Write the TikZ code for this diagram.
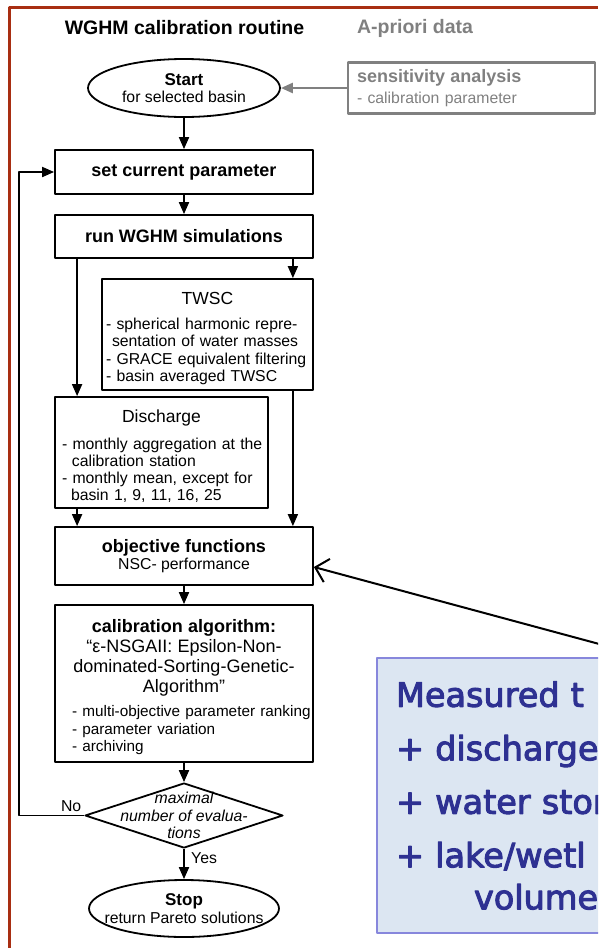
\documentclass[tikz,border=0pt]{standalone}
\usepackage{fontspec}
\setmainfont{Liberation Sans}
\newfontfamily\targetfont[FakeBold=3]{DejaVu Sans}
\usetikzlibrary{shapes.geometric,arrows.meta}
\definecolor{framered}{RGB}{168,46,18}
\definecolor{aprigray}{RGB}{128,128,128}
\definecolor{tgtfill}{RGB}{220,230,242}
\definecolor{tgtline}{RGB}{135,135,220}
\definecolor{tgttext}{RGB}{46,49,146}
\newcommand{\fsz}[2]{\fontsize{#1}{#2}\selectfont}
\begin{document}
\begin{tikzpicture}[x=1pt, y=-1pt, line join=round, font=\fsz{15.8}{17.6},
	arr/.style={-{Triangle[length=12pt,width=10pt]}, line width=1.8pt},
	stepbox/.style={draw, line width=1.8pt, minimum width=258pt, inner sep=0pt, align=center},
	listbox/.style={draw, line width=1.8pt, align=left, inner ysep=0pt},
	term/.style={draw, ellipse, line width=1.8pt, inner sep=0pt, align=center}]
	\def\W{598} \def\H{948}
	\useasboundingbox (0,0) rectangle (\W,\H);
	\clip (0,0) rectangle (\W,\H);
	\draw[framered, line width=2.8pt] (9.5,\H) -- (9.5,7.5) -- (\W,7.5);
	% headings
	\node[font=\bfseries\fsz{19.5}{22}] (routine) at (184.5,28) {WGHM calibration routine};
	\node[font=\bfseries\fsz{19.5}{22}, text=aprigray] (apriori) at (415,28) {A-priori data};
	% flow chart
	\node[term, minimum width=192pt, minimum height=58pt] (start) at (184,88) {{\bfseries\fsz{17}{18}Start}\\for selected basin};
	\node[draw=aprigray, text=aprigray, line width=2.5pt, minimum width=247pt, minimum height=51pt, text width=229pt, inner xsep=9pt, align=left] (sens) at (471.5,88) {{\bfseries\fsz{18}{20}sensitivity analysis}\\[3.4pt]- calibration parameter};
	\node[stepbox, minimum height=44pt, font=\bfseries\fsz{18}{20}] (set) at (184,172) {set current parameter};
	\node[stepbox, minimum height=43pt, font=\bfseries\fsz{18}{20}] (run) at (184,236.5) {run WGHM simulations};
	\node[listbox, text width=203pt, inner xsep=4pt, minimum height=111pt] (twsc) at (207.5,334.5) {{\centering\fsz{17.5}{20}\rule{0pt}{20.5pt}TWSC\par}\vspace{7pt}- spherical harmonic repre-\\\hspace*{6pt}sentation of water masses\\- GRACE equivalent filtering\\- basin averaged TWSC};
	\node[listbox, text width=213pt, inner xsep=0pt, minimum height=111pt] (dis) at (161.5,452.5) {{\centering\fsz{17.5}{20}\rule{0pt}{20pt}Discharge\par}\vspace{10pt}{\leftskip=7pt\fsz{15.8}{17} - monthly aggregation at the\\\hspace*{10pt}calibration station\\- monthly mean, except for\\\hspace*{9pt}basin 1, 9, 11, 16, 25\par}};
	\node[stepbox, minimum height=58pt] (obj) at (184,556) {{\bfseries\fsz{18}{20}objective functions}\\NSC- performance};
	\node[listbox, text width=254pt, inner xsep=2pt, minimum height=157pt] (cal) at (184,683.5) {{\centering\fsz{18}{20}{\bfseries\rule{0pt}{21pt}calibration algorithm:}\\“ε-NSGAII: Epsilon-Non-\\dominated-Sorting-Genetic-\\Algorithm”\par}\vspace{6.5pt}{\leftskip=15pt\fsz{15.3}{17.5}- multi-objective parameter ranking\\- parameter variation\\- archiving\par}};
	\node[draw, diamond, line width=1.8pt, minimum width=198pt, minimum height=65pt, inner sep=0pt] (dec) at (184,815.5) {};
	\node[font=\itshape\fsz{15.8}{17.5}, align=center] (dectxt) at (dec) {maximal\\number of evalua-\\tions};
	\node[term, minimum width=190pt, minimum height=57pt, inner xsep=-14pt] (stop) at (184,908.5) {{\bfseries\fsz{17}{18}Stop}\\return Pareto solutions};
	% measured targets
	\node[draw=tgtline, fill=tgtfill, line width=2pt, anchor=north west, minimum height=275pt, text width=240pt, inner xsep=19pt, align=left, text=tgttext, font=\targetfont\fsz{33.5}{42}] (targets) at (376,657) {Measured t\\[11.5pt]+ discharge\\[11.5pt]+ water stor\\[11.5pt]+ lake/wetl\\\hspace*{78pt}volume};
	\coordinate (tgtfrom) at (640,655);
	% connectors
	\draw[-{Triangle[length=12pt,width=10pt]}, aprigray, line width=2.5pt] (sens.west) -- (start.east);
	\draw[arr] (start.south) -- (set.north);
	\draw[arr] (set.south) -- (run.north);
	\draw[arr] ([xshift=23pt]run.south west) -- ([xshift=23pt]dis.north west);
	\draw[arr] ([xshift=-21pt]run.south east) -- ([xshift=-21pt]twsc.north east);
	\draw[arr] ([xshift=-21pt]twsc.south east) -- ([xshift=-21pt]obj.north east);
	\draw[arr] ([xshift=23pt]dis.south west) -- ([xshift=23pt]obj.north west);
	\draw[arr] (obj.south) -- (cal.north);
	\draw[arr] (cal.south) -- (dec.north);
	\draw[arr] (dec.south) -- node[right, pos=0.31, xshift=3pt] (yes) {Yes} (stop.north);
	\draw[arr] (dec.west) -- ++(-65,0) node[pos=0.2, above] (no) {No} |- (set.west);
	\draw[-{Straight Barb[length=12pt,width=24pt]}, line width=2pt] (tgtfrom) -- ([yshift=-11pt]obj.east);
\end{tikzpicture}
\end{document}
